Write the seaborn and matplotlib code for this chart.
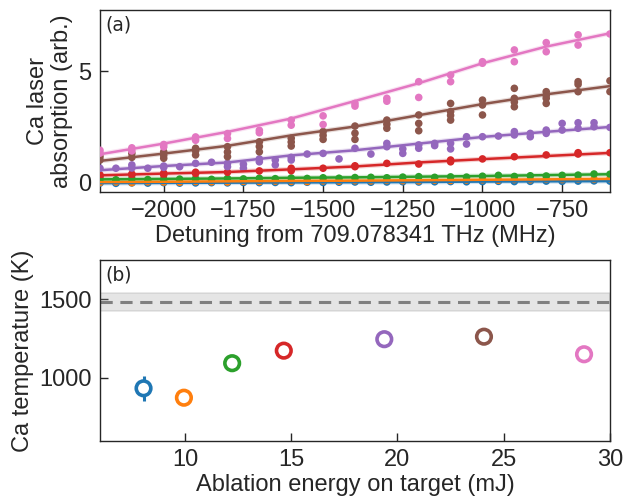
import numpy as np
import pandas as pd
import matplotlib
matplotlib.use("Agg")
import matplotlib.pyplot as plt
import seaborn as sns

sns.set_style("white")
plt.rcParams['font.family'] = ['Liberation Sans', 'DejaVu Sans']

colors = sns.color_palette("tab10")
# ---------------- data: panel (a) ----------------
pink_det = [-2200, -2200, -2100, -2100, -2000, -2000, -1900, -1900, -1800, -1800, -1700, -1700,
            -1600, -1600, -1500, -1500, -1400, -1400, -1300, -1300, -1200, -1200, -1100, -1100,
            -1000, -1000, -900, -900, -800, -800, -700, -700, -600]
pink_abs = [1.43, 1.30, 1.54, 1.40, 1.69, 1.58, 2.03, 1.88, 2.18, 1.96, 2.33, 2.22,
            2.79, 2.56, 2.98, 2.59, 3.54, 3.42, 3.77, 3.64, 4.52, 3.81, 4.82, 4.52,
            5.42, 5.35, 5.95, 5.42, 6.28, 5.87, 6.63, 6.17, 6.67]

brown_det = [-2200, -2200, -2100, -2100, -2000, -2000, -2000, -1900, -1900, -1900,
             -1800, -1800, -1800, -1700, -1700, -1700, -1600, -1600, -1600, -1500, -1500, -1500,
             -1400, -1400, -1400, -1300, -1300, -1300, -1200, -1200, -1200,
             -1100, -1100, -1100, -1100, -1000, -1000, -1000, -900, -900, -900, -900,
             -800, -800, -800, -800, -700, -700, -700, -600, -600]
brown_abs = [1.14, 0.99, 1.29, 1.11, 1.36, 1.07, 1.20, 1.52, 1.22, 1.40,
             1.59, 1.14, 1.35, 1.81, 1.36, 1.60, 1.97, 1.62, 1.80, 2.27, 1.92, 2.10,
             2.52, 1.92, 2.20, 2.79, 2.42, 2.60, 3.02, 2.64, 2.31,
             3.54, 3.17, 2.79, 3.00, 3.69, 3.47, 3.02, 4.22, 3.77, 3.39, 3.60,
             4.07, 3.77, 3.54, 3.90, 4.52, 4.07, 4.40, 4.56, 4.07]

purple_det = [-2200, -2150, -2100, -2100, -2050, -2000, -2000, -1950, -1900, -1850,
              -1800, -1800, -1750, -1750, -1700, -1700, -1650, -1650, -1600, -1600,
              -1550, -1500, -1450, -1400, -1350, -1300, -1300, -1250, -1250,
              -1200, -1200, -1150, -1150, -1100, -1100, -1050, -1050, -1000, -950,
              -900, -900, -850, -850, -800, -800, -750, -750, -700, -700, -650, -650, -600]
purple_abs = [0.62, 0.62, 0.77, 0.63, 0.62, 0.72, 0.66, 0.69, 0.84, 0.89,
              0.84, 0.69, 0.80, 0.62, 1.04, 0.91, 0.99, 0.77, 1.11, 0.99,
              1.26, 1.29, 1.04, 1.52, 1.26, 1.74, 1.59, 1.49, 1.29,
              1.67, 1.52, 1.74, 1.64, 1.74, 1.49, 2.04, 1.71, 2.04, 2.07,
              2.27, 2.12, 2.19, 2.04, 2.34, 2.19, 2.64, 2.34, 2.67, 2.42, 2.67, 2.49, 2.46]

red_det = [-2200, -2200, -2100, -2100, -2000, -2000, -1900, -1900, -1800, -1700,
           -1600, -1600, -1500, -1400, -1400, -1300, -1200, -1100, -1100, -1000,
           -900, -800, -700, -700, -600]
red_abs = [0.32, 0.25, 0.32, 0.36, 0.40, 0.32, 0.44, 0.38, 0.44, 0.50,
           0.62, 0.51, 0.62, 0.73, 0.69, 0.84, 0.81, 0.99, 0.91, 1.04,
           1.14, 1.22, 1.32, 1.26, 1.32]

fine_det = [-2200, -2150, -2100, -2050, -2000, -1950, -1900, -1850, -1800, -1750, -1700,
            -1650, -1600, -1550, -1500, -1450, -1400, -1350, -1300, -1250, -1200,
            -1150, -1100, -1050, -1000, -950, -900, -850, -800, -750, -700, -650, -600]
green_abs = [0.12, 0.10, 0.14, 0.11, 0.12, 0.13, 0.15, 0.12, 0.16, 0.14, 0.17,
             0.15, 0.18, 0.16, 0.19, 0.17, 0.20, 0.21, 0.19, 0.22, 0.24,
             0.21, 0.23, 0.22, 0.26, 0.30, 0.25, 0.28, 0.27, 0.30, 0.31, 0.36, 0.35]
orange_abs = [-0.02, 0.00, -0.03, 0.01, 0.00, -0.01, 0.02, 0.01, 0.00, 0.03, 0.02,
              0.04, 0.03, 0.02, 0.05, 0.04, 0.06, 0.05, 0.07, 0.06, 0.05,
              0.08, 0.07, 0.09, 0.10, 0.08, 0.11, 0.10, 0.12, 0.11, 0.13, 0.12, 0.14]
blue_abs = [-0.05, -0.06, -0.04, -0.05, -0.03, -0.05, -0.04, -0.03, -0.04, -0.02, -0.03,
            -0.02, -0.03, -0.01, -0.02, -0.01, 0.00, -0.01, 0.00, 0.01, 0.00,
            0.01, 0.02, 0.01, 0.02, 0.03, 0.02, 0.03, 0.04, 0.03, 0.04, 0.05, 0.04]

fit_det = [-2200, -2000, -1800, -1600, -1400, -1200, -1000, -800, -600]
fit_pink = [1.25, 1.73, 2.26, 2.86, 3.65, 4.45, 5.35, 6.10, 6.70]
fit_brown = [0.95, 1.28, 1.63, 2.10, 2.50, 3.01, 3.51, 3.95, 4.32]
fit_purple = [0.53, 0.72, 0.88, 1.20, 1.43, 1.73, 2.03, 2.26, 2.48]
fit_red = [0.30, 0.38, 0.45, 0.57, 0.70, 0.88, 1.03, 1.17, 1.31]
fit_green = [0.12, 0.14, 0.16, 0.19, 0.21, 0.24, 0.27, 0.31, 0.35]
fit_orange = [0.00, 0.01, 0.03, 0.05, 0.06, 0.08, 0.10, 0.12, 0.14]
fit_blue = [-0.05, -0.04, -0.03, -0.02, -0.01, 0.00, 0.02, 0.03, 0.04]

# ---------------- data: panel (b) ----------------
energy = [8.05, 9.95, 12.22, 14.65, 19.38, 24.07, 28.78]
temperature = [932, 872, 1092, 1172, 1245, 1261, 1149]
temp_err = [80, 45, 40, 25, 20, 20, 20]
ref_temp = 1481
ref_lo, ref_hi = 1422, 1538

fig = plt.figure(figsize=(6.26, 4.97), dpi=100)
ax1 = fig.add_axes([0.1597, 0.6137, 0.8147, 0.3662])
ax2 = fig.add_axes([0.1597, 0.1133, 0.8147, 0.3636])

series = [
    (fine_det, blue_abs, fit_blue, colors[0]),
    (fine_det, orange_abs, fit_orange, colors[1]),
    (fine_det, green_abs, fit_green, colors[2]),
    (red_det, red_abs, fit_red, colors[3]),
    (purple_det, purple_abs, fit_purple, colors[4]),
    (brown_det, brown_abs, fit_brown, colors[5]),
    (pink_det, pink_abs, fit_pink, colors[6]),
]
for det, val, fit, c in series:
    sns.scatterplot(x=det, y=val, ax=ax1, color=c, s=30, edgecolor='none', zorder=3)
    sns.lineplot(x=fit_det, y=fit, ax=ax1, color=c, lw=3.5, alpha=0.2, zorder=2)
    sns.lineplot(x=fit_det, y=fit, ax=ax1, color=c, lw=1.8, zorder=4)

ax1.set_xlim(-2200, -600)
ax1.set_ylim(-0.45, 7.75)
ax1.set_xticks([-2000, -1750, -1500, -1250, -1000, -750])
ax1.set_yticks([0, 5])
ax1.set_xlabel("Detuning from 709.078341 THz (MHz)", fontsize=17, labelpad=2)
ax1.set_ylabel("Ca laser\nabsorption (arb.)", fontsize=17, linespacing=1.1)
ax1.text(0.01, 0.97, "(a)", transform=ax1.transAxes, ha='left', va='top',
         fontsize=13.5, family='DejaVu Sans')

ax2.axhspan(ref_lo, ref_hi, color='0.6', alpha=0.25, lw=1.2)
ax2.axhline(ref_temp, color='0.5', ls=(0, (4, 2.5)), lw=2.2)
for i in range(len(energy)):
    ax2.errorbar(energy[i], temperature[i], yerr=temp_err[i], fmt='none',
                 ecolor=colors[i], elinewidth=2.2, capsize=0, zorder=3)
df_b = pd.DataFrame({"energy": energy, "temperature": temperature,
                     "run": [str(i) for i in range(len(energy))]})
sns.scatterplot(data=df_b, x="energy", y="temperature", hue="run",
                palette=colors[:7], ax=ax2, s=110, facecolor='white',
                linewidth=2.6, legend=False, zorder=4)
pts = ax2.collections[-1]
pts.set_edgecolors([colors[i] for i in range(7)])
pts.set_facecolors('white')

ax2.set_xlim(6, 30)
ax2.set_ylim(598, 1750)
ax2.set_xticks([10, 15, 20, 25, 30])
ax2.set_yticks([1000, 1500])
ax2.set_xlabel("Ablation energy on target (mJ)", fontsize=17, labelpad=2)
ax2.set_ylabel("Ca temperature (K)", fontsize=17)
ax2.text(0.01, 0.97, "(b)", transform=ax2.transAxes, ha='left', va='top',
         fontsize=13.5, family='DejaVu Sans')

for ax in (ax1, ax2):
    ax.tick_params(direction='in', labelsize=17, length=6, width=1, pad=6,
                   bottom=True, left=True, top=False, right=False, color='0.15')
    for s in ax.spines.values():
        s.set_visible(True)
        s.set_color('0.15')
        s.set_linewidth(1.0)

fig.savefig("out.png", dpi=100)
